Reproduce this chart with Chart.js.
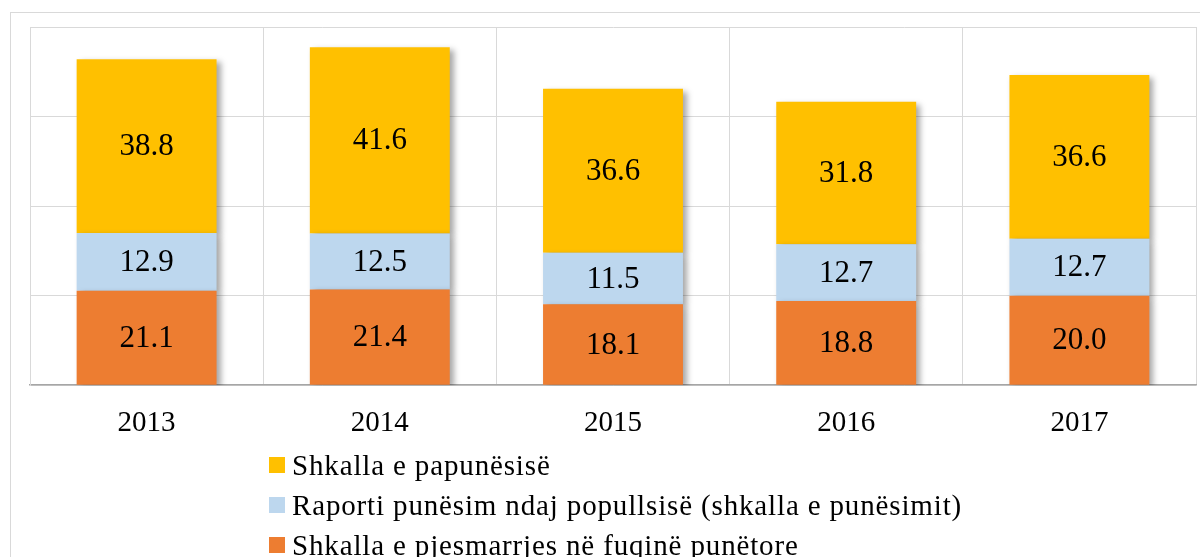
<!DOCTYPE html>
<html>
<head>
<meta charset="utf-8">
<script src="https://cdn.jsdelivr.net/npm/chart.js@4.4.1/dist/chart.umd.min.js"></script>
<style>
    body { margin: 0; background: #fff; width: 1200px; height: 557px; overflow: hidden; position: relative; }
    .frame { position: absolute; left: 10px; top: 12px; width: 1300px; height: 700px; border: 1px solid #d9d9d9; }
    .wrap { position: absolute; left: 0; top: 0; width: 1200px; height: 462px; }
    #legend { position: absolute; left: 269px; top: 445px; font-family: 'Liberation Serif', serif; font-size: 29px; letter-spacing: 0.85px; color: #000; }
    #legend .row { height: 40px; display: flex; align-items: center; }
    #legend .box { width: 16px; height: 16px; margin-right: 7px; }
</style>
</head>
<body>
<div class="frame"></div>
<div class="wrap"><canvas id="laborChart"></canvas></div>
<div id="legend"></div>
<script>
const years = ['2013', '2014', '2015', '2016', '2017'];
const participation = [21.1, 21.4, 18.1, 18.8, 20.0];
const employment = [12.9, 12.5, 11.5, 12.7, 12.7];
const unemployment = [38.8, 41.6, 36.6, 31.8, 36.6];

const serif = "'Liberation Serif', serif";

// drop shadow under the bars, like the office chart
const barShadow = {
    id: 'barShadow',
    beforeDatasetsDraw(chart) {
        const ctx = chart.ctx;
        ctx.save();
        ctx.shadowColor = 'rgba(0, 0, 0, 0.35)';
        ctx.shadowBlur = 6;
        ctx.shadowOffsetX = 4;
        ctx.shadowOffsetY = 3;
    },
    afterDatasetsDraw(chart) {
        chart.ctx.restore();
    }
};

// value labels in the middle of each segment
const segmentLabels = {
    id: 'segmentLabels',
    afterDatasetsDraw(chart) {
        const ctx = chart.ctx;
        ctx.save();
        ctx.font = '31px ' + serif;
        ctx.fillStyle = '#000';
        ctx.textAlign = 'center';
        ctx.textBaseline = 'middle';
        chart.data.datasets.forEach((ds, i) => {
            chart.getDatasetMeta(i).data.forEach((bar, j) => {
                const mid = (bar.y + bar.base) / 2;
                ctx.fillText(ds.data[j].toFixed(1), bar.x, mid + 1);
            });
        });
        ctx.restore();
    }
};

const chart = new Chart(document.getElementById('laborChart'), {
    type: 'bar',
    data: {
        labels: years,
        datasets: [
            { label: 'Shkalla e pjesmarrjes në fuqinë punëtore', data: participation, backgroundColor: '#ED7D31' },
            { label: 'Raporti punësim ndaj popullsisë (shkalla e punësimit)', data: employment, backgroundColor: '#BDD7EE' },
            { label: 'Shkalla e papunësisë', data: unemployment, backgroundColor: '#FFC000' }
        ]
    },
    options: {
        responsive: true,
        maintainAspectRatio: false,
        animation: false,
        categoryPercentage: 0.6,
        barPercentage: 1,
        layout: { padding: { left: 30, right: 4, top: 27, bottom: 0 } },
        plugins: {
            legend: { display: false },
            tooltip: { enabled: false }
        },
        scales: {
            x: {
                stacked: true,
                grid: { color: '#d9d9d9', offset: true, drawTicks: false },
                border: { color: '#a6a6a6', width: 1.5 },
                ticks: { color: '#000', font: { family: serif, size: 29 }, padding: 21 }
            },
            y: {
                stacked: true,
                min: 0,
                max: 80,
                ticks: { stepSize: 20, display: false },
                grid: { color: '#d9d9d9', drawTicks: false },
                border: { color: '#d9d9d9' }
            }
        }
    },
    plugins: [barShadow, segmentLabels]
});

// vertical legend, top series first
const legendEl = document.getElementById('legend');
chart.data.datasets.slice().reverse().forEach(ds => {
    const row = document.createElement('div');
    row.className = 'row';
    const box = document.createElement('span');
    box.className = 'box';
    box.style.background = ds.backgroundColor;
    const txt = document.createElement('span');
    txt.textContent = ds.label;
    row.appendChild(box);
    row.appendChild(txt);
    legendEl.appendChild(row);
});
</script>
</body>
</html>
